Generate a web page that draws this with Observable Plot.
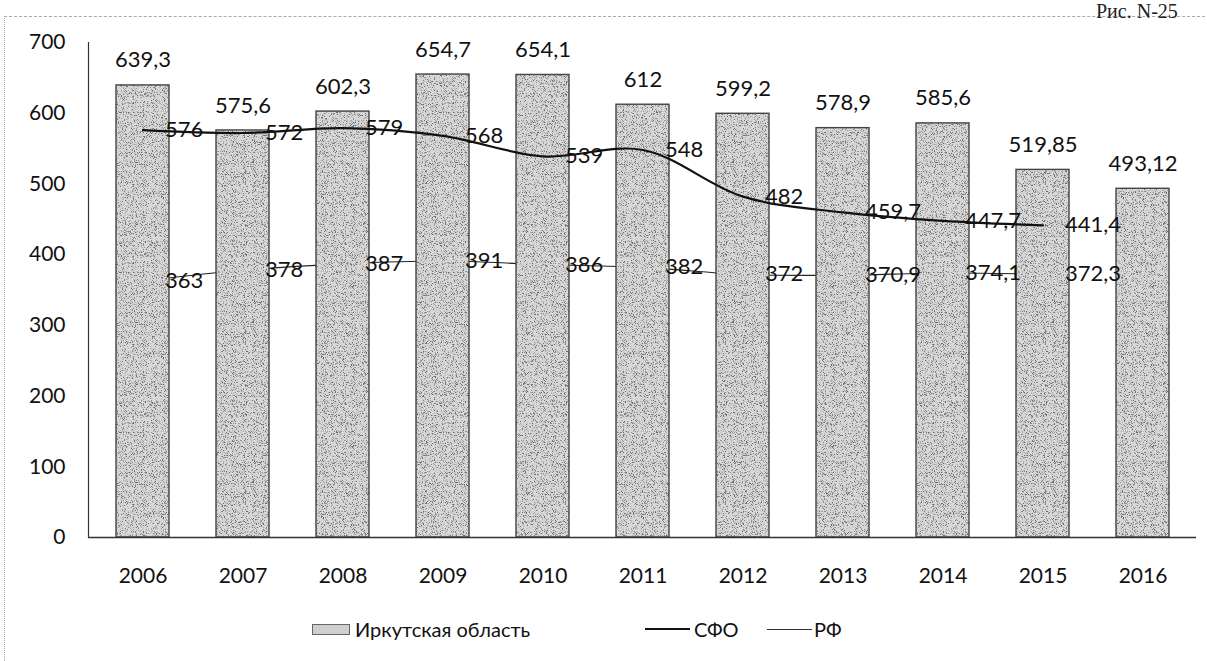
<!DOCTYPE html>
<html>
<head>
<meta charset="utf-8">
<script src="https://cdn.jsdelivr.net/npm/d3@7"></script>
<script src="https://cdn.jsdelivr.net/npm/@observablehq/plot@0.6"></script>
<style>
  html, body { margin: 0; padding: 0; background: #fff; }
  #wrap { position: relative; width: 1207px; height: 661px; overflow: hidden; font-family: Lato, "Open Sans", sans-serif; color: #111; }
  #chart { position: absolute; left: 0; top: 0; }
  .scanborder { position: absolute; left: 4px; top: 16px; width: 1210px; height: 660px; border-top: 1px dashed #aaa; border-left: 1px dotted #aaa; }
  .fig { position: absolute; left: 1096px; top: 1px; font-family: "Liberation Serif", serif; font-size: 20px; line-height: 20px; white-space: nowrap; color: #222; }
  .lg { position: absolute; font-size: 20px; line-height: 24px; top: 617px; white-space: nowrap; }
  .sw { position: absolute; top: 624px; left: 312px; width: 36px; height: 9px; background: #cfcfcf; border: 1px solid #666; }
  .ln { position: absolute; }
</style>
</head>
<body>
<div id="wrap">
  <div class="scanborder"></div>
  <div class="fig">Рис. N-25</div>
  <div id="chart"></div>
  <div class="sw"></div>
  <div class="lg" style="left:355px">Иркутская область</div>
  <div class="ln" style="left:645px; top:628px; width:45px; height:0; border-top:2.5px solid #111;"></div>
  <div class="lg" style="left:694px">СФО</div>
  <div class="ln" style="left:767px; top:629px; width:45px; height:0; border-top:1px solid #333;"></div>
  <div class="lg" style="left:814px">РФ</div>
</div>
<script>
const years = ["2006","2007","2008","2009","2010","2011","2012","2013","2014","2015","2016"];
const irkutsk = [639.3, 575.6, 602.3, 654.7, 654.1, 612, 599.2, 578.9, 585.6, 519.85, 493.12];
const sfoYears = ["2006","2007","2008","2009","2010","2011","2012","2013","2014","2015"];
const sfo = [576, 572, 579, 568, 539, 548, 482, 459.7, 447.7, 441.4];
const rfYears = ["2006","2007","2008","2009","2010","2011","2012","2013","2014","2015"];
const rf = [363, 378, 387, 391, 386, 382, 372, 370.9, 374.1, 372.3];
const yTicks = [0, 100, 200, 300, 400, 500, 600, 700];

const fmt = v => String(v).replace(".", ",");
const barData = years.map((y, i) => ({year: y, v: irkutsk[i]}));
const sfoData = sfoYears.map((y, i) => ({year: y, v: sfo[i]}));
const rfData = rfYears.map((y, i) => ({year: y, v: rf[i]}));

const chart = Plot.plot({
  width: 1207,
  height: 600,
  marginLeft: 88,
  marginRight: 11,
  marginTop: 42,
  marginBottom: 63,
  style: {fontFamily: "Lato, 'Open Sans', sans-serif", fontSize: "21px", color: "#111", background: "transparent"},
  x: {domain: years, paddingInner: 0.473, paddingOuter: 0.243, label: null},
  y: {domain: [0, 700], ticks: yTicks, label: null},
  marks: [
    Plot.lineY(rfData, {x: "year", y: "v", stroke: "#222", strokeWidth: 1.1, curve: "catmull-rom"}),
    Plot.barY(barData, {x: "year", y: "v", fill: "url(#stip)", stroke: "#444", strokeWidth: 1.4}),
    Plot.ruleY([0], {stroke: "#333", strokeWidth: 1.5}),
    Plot.frame({anchor: "left", stroke: "#333", strokeWidth: 1.2}),
    Plot.axisY({ticks: yTicks, tickSize: 0, tickPadding: 23, label: null, fontSize: 21}),
    Plot.axisX({tickSize: 0, tickPadding: 31, label: null, fontSize: 21}),
    Plot.lineY(sfoData, {x: "year", y: "v", stroke: "#111", strokeWidth: 2.2, curve: "catmull-rom"}),
    Plot.text(barData, {x: "year", y: "v", text: d => fmt(d.v), dy: -25, fontSize: 22, fill: "#111"}),
    Plot.text(sfoData, {x: "year", y: "v", text: d => fmt(d.v), textAnchor: "start", dx: 22, fontSize: 22, fill: "#111"}),
    Plot.text(rfData, {x: "year", y: "v", text: d => fmt(d.v), textAnchor: "start", dx: 22, fontSize: 22, fill: "#111"})
  ]
});

// grain texture for the bars
const ns = "http://www.w3.org/2000/svg";
const tmp = document.createElementNS(ns, "svg");
tmp.innerHTML = `<defs>
  <filter id="grain" x="0" y="0" width="100%" height="100%" filterUnits="userSpaceOnUse">
    <feTurbulence type="fractalNoise" baseFrequency="1.1" numOctaves="2" seed="7"/>
    <feColorMatrix type="matrix" values="0 0 0 0 0  0 0 0 0 0  0 0 0 0 0  6 0 0 0 -3.2"/>
  </filter>
  <pattern id="stip" patternUnits="userSpaceOnUse" width="160" height="160">
    <rect width="160" height="160" fill="#d8d8d8"/>
    <rect width="160" height="160" fill="#000" filter="url(#grain)" opacity="0.5"/>
  </pattern>
</defs>`;
chart.insertBefore(tmp.firstElementChild, chart.firstChild);

document.getElementById("chart").appendChild(chart);
</script>
</body>
</html>
